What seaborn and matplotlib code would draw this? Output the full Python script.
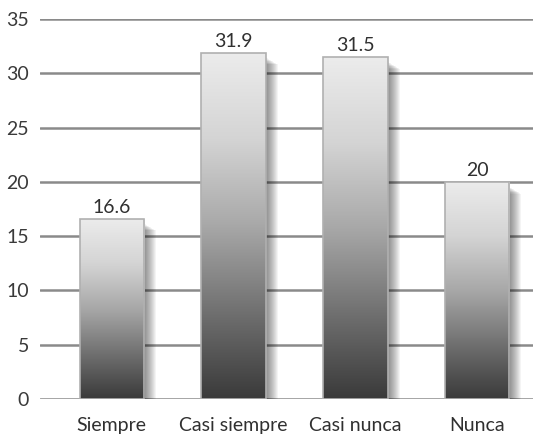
import numpy as np
import pandas as pd
import matplotlib
matplotlib.use("Agg")
import matplotlib.pyplot as plt
import seaborn as sns
from matplotlib.patches import Rectangle

categories = ["Siempre", "Casi siempre", "Casi nunca", "Nunca"]
values = [16.6, 31.9, 31.5, 20]
value_labels = ["16.6", "31.9", "31.5", "20"]
yticks = [0, 5, 10, 15, 20, 25, 30, 35]

sns.set_theme(style="white")
plt.rcParams['font.family'] = ['Lato', 'DejaVu Sans']

df = pd.DataFrame({"cat": categories, "val": values})

fig = plt.figure(figsize=(5.33, 4.36), dpi=100)
ax = fig.add_axes([0.075, 0.085, 0.925, 0.871])

sns.barplot(data=df, x="cat", y="val", ax=ax, width=0.53, color="#888888",
            edgecolor="#b0b0b0", linewidth=1.2, zorder=3)

ax.set_ylim(0, 35)
ax.set_yticks(yticks)
ax.set_yticklabels([str(t) for t in yticks], fontsize=14, color="#3a3a3a")
ax.tick_params(axis='x', labelsize=14, colors="#303030", length=0, pad=13)
ax.tick_params(axis='y', length=0, pad=8)
ax.set_xlabel("")
ax.set_ylabel("")
for s in ax.spines.values():
    s.set_visible(False)
for t in yticks:
    ax.axhline(t, color="#8a8a8a", linewidth=1.8, zorder=1)

# gradient
grad = np.linspace(0, 1, 256).reshape(-1, 1)
cmap = matplotlib.colors.LinearSegmentedColormap.from_list(
    "g", ["#3a3a3a", "#707070", "#a8a8a8", "#d4d4d4", "#ececec"])
unit = 1 / 121.7  # data units per pixel (x)
yunit = 35 / 380.0
for p in list(ax.patches):
    x0, y0 = p.get_x(), p.get_y()
    w, h = p.get_width(), p.get_height()
    # soft shadow to the right
    n = 12
    for i in range(n):
        off = (i + 1) * 1.0 * unit
        sh = Rectangle((x0 + w - 2 * unit, y0), 2 * unit + off,
                       h - (5 + i * 0.6) * yunit,
                       facecolor="black", alpha=0.045, edgecolor="none", zorder=2)
        ax.add_patch(sh)
    im = ax.imshow(grad, extent=[x0, x0 + w, y0, y0 + h], origin="lower",
                   cmap=cmap, aspect="auto", zorder=3.5)
    im.set_clip_path(p)
    p.set_facecolor("none")
    p.set_zorder(4)

ax.set_xlim(-0.59, 3.46)
ax.set_ylim(0, 35)

for i, (v, lab) in enumerate(zip(values, value_labels)):
    ax.text(i, v + 0.3, lab, ha="center", va="bottom", fontsize=14,
            color="#303030", zorder=5)

fig.savefig("out.png", dpi=100)
